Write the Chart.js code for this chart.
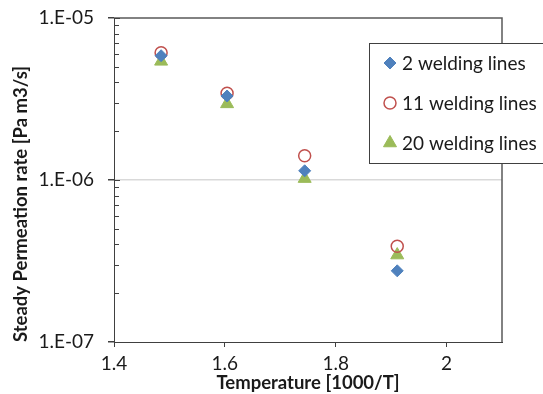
<!DOCTYPE html>
<html><head><meta charset="utf-8">
<script src="https://cdn.jsdelivr.net/npm/chart.js@4/dist/chart.umd.min.js"></script>
<style>html,body{margin:0;padding:0;background:#fff;overflow:hidden}#wrap{position:relative;width:543px;height:394px}</style>
</head><body><div id="wrap"><canvas id="c" width="543" height="394"></canvas></div>
<script>
const temperatures = [1.485, 1.604, 1.744, 1.911];
const lines2 = [5.85e-6, 3.3e-6, 1.14e-6, 2.75e-7];
const lines11 = [6.1e-6, 3.43e-6, 1.41e-6, 3.9e-7];
const lines20 = [5.4e-6, 2.95e-6, 1.02e-6, 3.44e-7];
const seriesLabels = ['2 welding lines', '11 welding lines', '20 welding lines'];
const xTicks = [1.4, 1.6, 1.8, 2.0];
const yMajorTicks = [1e-7, 1e-6, 1e-5];

const FONT = 'Lato, "Liberation Sans", sans-serif';
const TXT = '#1a1a1a';
const AXIS = '#404040';
const CLEAR = 'rgba(0,0,0,0)';

function isMajor(v) { return yMajorTicks.some(m => Math.abs(v / m - 1) < 1e-9); }
function fmtExp(v) {
  const e = Math.round(Math.log10(v));
  const sign = e < 0 ? '-' : '+';
  return '1.E' + sign + String(Math.abs(e)).padStart(2, '0');
}
function allYTicks() {
  const out = [];
  for (let i = 0; i < yMajorTicks.length - 1; i++) {
    for (let k = 1; k <= 9; k++) out.push(yMajorTicks[i] * k);
  }
  out.push(yMajorTicks[yMajorTicks.length - 1]);
  return out;
}
function pts(ys) { return temperatures.map((x, i) => ({ x: x, y: ys[i] })); }

function drawMarker(ctx, style, x, y, r, fill, stroke, bw) {
  ctx.save();
  ctx.beginPath();
  if (style === 'rectRot') {
    ctx.moveTo(x - r, y); ctx.lineTo(x, y - r); ctx.lineTo(x + r, y); ctx.lineTo(x, y + r); ctx.closePath();
  } else if (style === 'triangle') {
    const a = -Math.PI / 2;
    for (let i = 0; i < 3; i++) {
      const ang = a + i * 2 * Math.PI / 3;
      const px = x + Math.cos(ang) * r, py = y + Math.sin(ang) * r;
      if (i === 0) ctx.moveTo(px, py); else ctx.lineTo(px, py);
    }
    ctx.closePath();
  } else {
    ctx.arc(x, y, r, 0, Math.PI * 2);
  }
  ctx.fillStyle = fill; ctx.fill();
  ctx.lineWidth = bw; ctx.strokeStyle = stroke; ctx.stroke();
  ctx.restore();
}

const framePlugin = {
  id: 'frame',
  beforeDatasetsDraw(chart) {
    const { ctx, chartArea: a } = chart;
    const ys = chart.scales.y;
    ctx.save();
    ctx.strokeStyle = '#595959';
    ctx.lineWidth = 1.5;
    ctx.beginPath();
    ctx.moveTo(a.left, a.top); ctx.lineTo(a.right, a.top); ctx.lineTo(a.right, a.bottom);
    ctx.stroke();
    ctx.strokeStyle = AXIS;
    ctx.lineWidth = 1;
    ys.ticks.forEach(t => {
      const py = Math.round(ys.getPixelForValue(t.value)) + 0.5;
      ctx.beginPath();
      ctx.moveTo(a.left, py);
      ctx.lineTo(a.left + (isMajor(t.value) ? 6 : 5), py);
      ctx.stroke();
    });
    ctx.restore();
  }
};

const legendPlugin = {
  id: 'boxLegend',
  afterDraw(chart) {
    const { ctx } = chart;
    const left = 369.5, top = 43.5, w = 180, h = 120;
    ctx.save();
    ctx.fillStyle = '#ffffff';
    ctx.fillRect(left, top, w, h);
    ctx.strokeStyle = AXIS; ctx.lineWidth = 1;
    ctx.strokeRect(left, top, w, h);
    ctx.font = '19px ' + FONT;
    ctx.textBaseline = 'middle';
    ctx.fillStyle = TXT;
    chart.data.datasets.forEach((ds, i) => {
      const cy = 63 + i * 40;
      drawMarker(ctx, ds.pointStyle, 390, cy, ds.pointRadius, ds.backgroundColor, ds.borderColor, ds.borderWidth);
      ctx.fillStyle = TXT;
      ctx.fillText(ds.label, 402, cy + 1);
    });
    ctx.restore();
  }
};

new Chart(document.getElementById('c'), {
  type: 'scatter',
  data: {
    datasets: [
      { label: seriesLabels[0], data: pts(lines2), pointStyle: 'rectRot', pointRadius: 6, pointHoverRadius: 6,
        backgroundColor: '#4F81BD', borderColor: '#4F81BD', borderWidth: 1 },
      { label: seriesLabels[1], data: pts(lines11), pointStyle: 'circle', pointRadius: 6, pointHoverRadius: 6,
        backgroundColor: CLEAR, borderColor: '#C0504D', borderWidth: 1.5 },
      { label: seriesLabels[2], data: pts(lines20), pointStyle: 'triangle', pointRadius: 7.5, pointHoverRadius: 7.5,
        backgroundColor: '#9BBB59', borderColor: '#9BBB59', borderWidth: 1 }
    ]
  },
  options: {
    responsive: false,
    animation: false,
    devicePixelRatio: 1,
    layout: { padding: { top: 18, right: 41, left: 0, bottom: 0 } },
    plugins: { legend: { display: false }, tooltip: { enabled: false } },
    scales: {
      x: {
        type: 'linear', position: 'bottom', min: 1.4, max: 2.1,
        afterBuildTicks: s => { s.ticks = xTicks.map(v => ({ value: v })); },
        afterFit: s => { s.height = 52; s.paddingLeft = 0; s.paddingRight = 0; },
        ticks: { autoSkip: false, color: TXT, font: { family: FONT, size: 19 }, padding: 5,
          callback: v => String(Number(v.toFixed(2))) },
        grid: { drawOnChartArea: false, drawTicks: true, tickLength: 5, color: AXIS },
        border: { display: true, color: AXIS, width: 1 },
        title: { display: true, text: 'Temperature [1000/T]', color: TXT,
          font: { family: FONT, size: 18.5, weight: 'bold' }, padding: { top: 0, bottom: 0 } }
      },
      y: {
        type: 'logarithmic', position: 'left', min: 1e-7, max: 1e-5,
        afterBuildTicks: s => { s.ticks = allYTicks().map(v => ({ value: v, major: isMajor(v) })); },
        afterFit: s => { s.width = 114; s.paddingTop = 0; s.paddingBottom = 0; },
        ticks: { autoSkip: false, color: TXT, font: { family: FONT, size: 19 }, padding: 14,
          callback: v => isMajor(v) ? fmtExp(v) : '' },
        grid: {
          drawOnChartArea: true, drawTicks: true, tickLength: 6,
          color: c => (c.tick && Math.abs(c.tick.value / 1e-6 - 1) < 1e-9) ? '#D9D9D9' : CLEAR,
          tickColor: c => (c.tick && isMajor(c.tick.value)) ? AXIS : CLEAR,
          lineWidth: 1.5
        },
        border: { display: true, color: AXIS, width: 1 },
        title: { display: true, text: 'Steady Permeation rate [Pa m3/s]', color: TXT, align: 'start',
          font: { family: FONT, size: 18.5, weight: 'bold' }, padding: { top: 10, bottom: 0 } }
      }
    }
  },
  plugins: [framePlugin, legendPlugin]
});
</script>
</body></html>
